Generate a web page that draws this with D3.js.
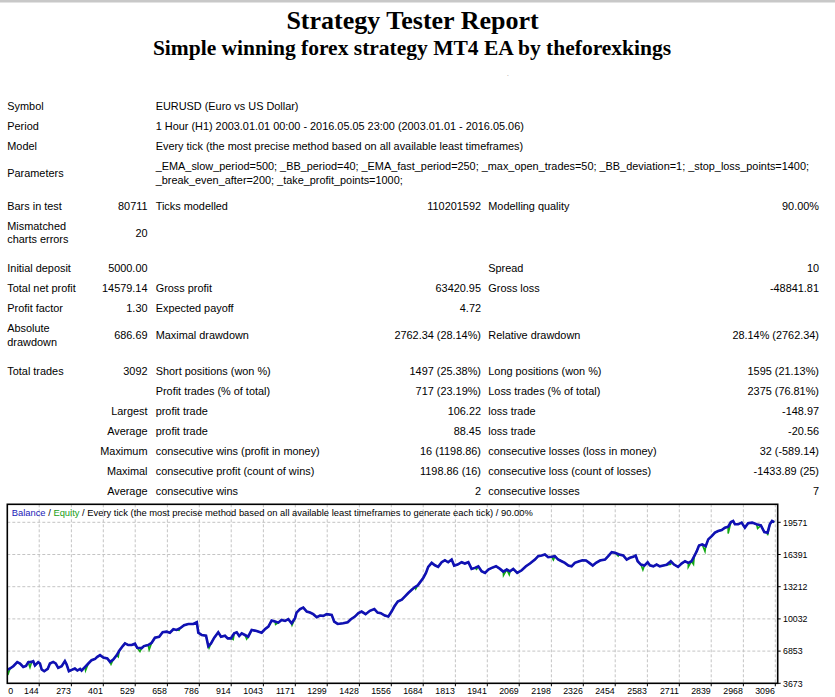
<!DOCTYPE html>
<html lang="en">
<head>
<meta charset="UTF-8">
<title>Strategy Tester Report</title>
<script src="https://d3js.org/d3.v7.min.js"></script>
<style>
  body { margin: 0; background: #fff; }
  svg { display: block; }
  .cell { font-family: "Liberation Sans", Arial, sans-serif; font-size: 10.9px; fill: #000; }
  .small { font-family: "Liberation Sans", Arial, sans-serif; font-size: 8.8px; fill: #000; }
  .caption { font-family: "Liberation Sans", Arial, sans-serif; font-size: 9.4px; fill: #000; }
  .head { font-family: "Liberation Serif", "Times New Roman", serif; font-weight: bold; fill: #000; text-anchor: middle; }
</style>
</head>
<body>
<div id="report"></div>
<script>
// ---- report text ----
const reportTitle = "Strategy Tester Report";
const reportSubtitle = "Simple winning forex strategy MT4 EA by theforexkings";

const infoRows = [
  ["Symbol", ["EURUSD (Euro vs US Dollar)"]],
  ["Period", ["1 Hour (H1) 2003.01.01 00:00 - 2016.05.05 23:00 (2003.01.01 - 2016.05.06)"]],
  ["Model", ["Every tick (the most precise method based on all available least timeframes)"]],
  ["Parameters", ["_EMA_slow_period=500; _BB_period=40; _EMA_fast_period=250; _max_open_trades=50; _BB_deviation=1; _stop_loss_points=1400;",
                  "_break_even_after=200; _take_profit_points=1000;"]]
];

// null = spacer row
const statRows = [
  null,
  ["Bars in test", "80711", "Ticks modelled", "110201592", "Modelling quality", "90.00%"],
  [["Mismatched", "charts errors"], "20", "", "", "", ""],
  null,
  ["Initial deposit", "5000.00", "", "", "Spread", "10"],
  ["Total net profit", "14579.14", "Gross profit", "63420.95", "Gross loss", "-48841.81"],
  ["Profit factor", "1.30", "Expected payoff", "4.72", "", ""],
  [["Absolute", "drawdown"], "686.69", "Maximal drawdown", "2762.34 (28.14%)", "Relative drawdown", "28.14% (2762.34)"],
  null,
  ["Total trades", "3092", "Short positions (won %)", "1497 (25.38%)", "Long positions (won %)", "1595 (21.13%)"],
  ["", "", "Profit trades (% of total)", "717 (23.19%)", "Loss trades (% of total)", "2375 (76.81%)"],
  ["", "Largest", "profit trade", "106.22", "loss trade", "-148.97"],
  ["", "Average", "profit trade", "88.45", "loss trade", "-20.56"],
  ["", "Maximum", "consecutive wins (profit in money)", "16 (1198.86)", "consecutive losses (loss in money)", "32 (-589.14)"],
  ["", "Maximal", "consecutive profit (count of wins)", "1198.86 (16)", "consecutive loss (count of losses)", "-1433.89 (25)"],
  ["", "Average", "consecutive wins", "2", "consecutive losses", "7"]
];

// ---- chart data (trade number, money) ----
const chartCaption = ["Balance", " / ", "Equity", " / Every tick (the most precise method based on all available least timeframes to generate each tick) / 90.00%"];
const xTickLabels = [0, 144, 273, 401, 529, 658, 786, 914, 1043, 1171, 1299, 1428, 1556, 1684, 1813, 1941, 2069, 2198, 2326, 2454, 2583, 2711, 2839, 2968, 3096];
const yTickLabels = [3673, 6853, 10032, 13212, 16391, 19571];

const balance = [
  [16,5000],[27,5134],[40,5362],[56,5760],[67,5630],[80,5293],[91,5392],[100,5760],[114,5789],[120,5859],
  [127,5432],[140,5760],[147,5630],[154,5034],[164,4865],[178,5094],[187,5630],[200,5789],[210,5630],[220,5193],
  [234,5362],[247,5859],[254,5531],[263,4865],[274,4994],[287,5134],[297,4935],[308,5094],[314,4935],[328,5293],
  [341,5630],[354,5958],[368,6087],[377,6286],[388,6455],[401,6227],[417,6127],[428,5789],[441,6028],[455,6455],
  [465,6882],[479,7349],[488,7618],[501,7449],[515,7449],[528,7578],[537,7180],[555,7151],[564,7349],[581,7449],
  [595,7677],[608,8174],[625,8273],[639,8711],[655,8770],[668,8671],[682,9009],[695,8939],[709,9108],[725,9406],
  [742,9535],[762,9535],[776,9704],[782,8671],[796,8442],[813,8373],[822,7349],[833,7618],[846,8174],[862,8711],
  [873,8273],[889,8373],[900,8114],[913,8114],[926,8611],[936,8711],[946,8343],[956,8611],[969,8442],[982,8273],
  [996,8939],[1016,8840],[1036,8671],[1049,9009],[1063,9267],[1076,9863],[1090,9764],[1103,9664],[1116,9933],[1130,9833],
  [1143,10002],[1156,9605],[1170,10101],[1176,10658],[1190,10996],[1203,11155],[1217,10757],[1230,10658],[1243,10499],[1257,10201],
  [1270,10360],[1283,10330],[1297,10499],[1317,10429],[1327,9764],[1341,9535],[1363,9605],[1381,9704],[1394,10002],[1410,10261],
  [1424,10598],[1437,10757],[1453,10499],[1470,10827],[1488,10996],[1501,10658],[1514,10598],[1530,10360],[1544,10261],[1557,10757],
  [1568,11254],[1582,11751],[1598,11920],[1611,12248],[1624,12586],[1638,12913],[1651,13182],[1662,13341],[1674,13738],[1684,14076],
  [1695,14573],[1704,15169],[1718,15566],[1731,15328],[1744,15169],[1758,15626],[1771,15825],[1784,15626],[1798,15894],[1808,15298],
  [1822,15397],[1838,15626],[1851,15497],[1865,15626],[1878,14970],[1891,15070],[1905,15228],[1918,14732],[1932,14573],[1945,14901],
  [1959,15070],[1976,15228],[1992,14970],[2005,14702],[2019,14901],[2032,14732],[2045,14970],[2061,14573],[2079,14831],[2096,15228],
  [2112,15497],[2132,15894],[2145,16222],[2159,16292],[2172,16391],[2185,16123],[2199,16162],[2212,16222],[2225,15894],[2239,15725],
  [2252,15566],[2266,15298],[2279,15228],[2292,15566],[2310,15725],[2323,15825],[2337,15795],[2350,15566],[2364,15298],[2377,15566],
  [2393,15795],[2413,15894],[2426,16222],[2440,16619],[2453,16560],[2470,16391],[2486,16292],[2500,15894],[2513,16063],[2526,16163],
  [2536,16292],[2544,15725],[2557,15397],[2571,15298],[2584,15626],[2593,15328],[2607,15228],[2620,15397],[2633,15228],[2647,15298],
  [2660,15368],[2677,15725],[2690,15397],[2706,15169],[2720,15497],[2734,15725],[2747,15566],[2760,15725],[2771,16222],[2781,16719],
  [2790,17285],[2803,17385],[2817,17216],[2827,17881],[2841,18209],[2854,18547],[2867,18706],[2881,18805],[2894,19044],[2907,19143],
  [2918,19600],[2927,19700],[2934,19372],[2947,19372],[2961,19541],[2974,19044],[2987,19471],[3003,19541],[3021,19372],[3038,19273],
  [3052,18607],[3065,18547],[3074,19372],[3083,19700],[3092,19579]
];

// floating equity lows where it separates from balance
const equityDips = [
  [18,4500],[107,5250],[330,4950],[432,5560],[461,6300],[548,6820],[585,7000],[705,8900],
  [825,7150],[922,8000],[976,8040],[1092,9480],[1158,9420],[1654,13000],[1898,14930],[2006,14330],
  [2029,14400],[2206,15850],[2466,16250],[2565,14880],[2676,15420],[2747,15160],[2768,15420],[2814,16700],
  [2907,18470],[3025,18960],[3065,18280]
];

// ---- layout ----
const W = 835, H = 697;
const colX = [7.3, 147.5, 155.7, 481, 488.3, 819];   // start, end, start, end, start, end
const plot = {left: 7.3, right: 777.7, top: 504.3, bottom: 683.3};

const svg = d3.select("#report").append("svg")
  .attr("width", W).attr("height", H)
  .attr("viewBox", [0, 0, W, H]);

svg.append("rect").attr("x", 0).attr("y", 0).attr("width", W).attr("height", 2.5).attr("fill", "#c8c8c8");

svg.append("text").attr("class", "head").attr("x", 412.5).attr("y", 29)
  .style("font-size", "26px").text(reportTitle);
svg.append("text").attr("class", "head").attr("x", 412).attr("y", 55)
  .style("font-size", "21.5px").text(reportSubtitle);
svg.append("text").attr("x", 507).attr("y", 76).attr("fill", "#999").style("font-size", "7px").text(".");

const LINE = 13.5, ROW = 20, ROW2 = 33.5;

// draws one cell, lines stacked and vertically centred in the row
function cell(txt, x, top, h, anchor) {
  const lines = Array.isArray(txt) ? txt : [txt];
  if (!lines.length || lines[0] === "") return;
  const first = top + h / 2 + 3.8 - (lines.length - 1) * LINE / 2;
  const t = svg.append("text").attr("class", "cell").attr("text-anchor", anchor);
  lines.forEach((s, i) => t.append("tspan").attr("x", x).attr("y", first + i * LINE).text(s));
}

let cursor = 96.5;
infoRows.forEach(([label, value]) => {
  const h = value.length > 1 ? ROW2 : ROW;
  cell(label, colX[0], cursor, h, "start");
  cell(value, colX[2], cursor, h, "start");
  cursor += h;
});

const spacers = [6, 9, 9.5];
let sp = 0;
statRows.forEach(r => {
  if (r === null) { cursor += spacers[sp++]; return; }
  const h = r.some(c => Array.isArray(c)) ? ROW2 : ROW;
  r.forEach((c, i) => cell(c, colX[i], cursor, h, i % 2 ? "end" : "start"));
  cursor += h;
});

// ---- balance / equity graph ----
const x = d3.scaleLinear().domain([16, 3096]).range([7.3, 775.3]);
const y = d3.scaleLinear().domain([3673, 19571]).range([683.3, 522.3]);

const grid = svg.append("g").attr("stroke", "#c4c4c4").attr("stroke-width", 1).attr("stroke-dasharray", "3,2");
grid.selectAll("line.v").data(xTickLabels.slice(1)).join("line")
  .attr("x1", d => x(d)).attr("x2", d => x(d))
  .attr("y1", plot.top).attr("y2", plot.bottom);
grid.selectAll("line.h").data(yTickLabels.slice(1)).join("line")
  .attr("x1", plot.left).attr("x2", plot.right)
  .attr("y1", d => y(d)).attr("y2", d => y(d));

svg.append("defs").append("clipPath").attr("id", "clip")
  .append("rect").attr("x", plot.left).attr("y", plot.top)
  .attr("width", plot.right - plot.left).attr("height", plot.bottom - plot.top);

const equity = balance.concat(equityDips).sort((a, b) => a[0] - b[0]);
const line = d3.line().x(d => x(d[0])).y(d => y(d[1]));

const curves = svg.append("g").attr("clip-path", "url(#clip)").attr("fill", "none");
curves.append("path").datum(equity).attr("d", line)
  .attr("stroke", "#12a812").attr("stroke-width", 1.6);
curves.append("path").datum(balance).attr("d", line)
  .attr("stroke", "#1010b4").attr("stroke-width", 2.6).attr("stroke-linejoin", "miter");

// frame
svg.append("rect").attr("x", plot.left).attr("y", plot.top)
  .attr("width", plot.right - plot.left).attr("height", plot.bottom - plot.top)
  .attr("fill", "none").attr("stroke", "#000").attr("stroke-width", 1.6);

// bottom axis
const xAxis = svg.append("g");
xAxis.selectAll("line").data(xTickLabels.slice(1)).join("line")
  .attr("x1", d => x(d)).attr("x2", d => x(d))
  .attr("y1", plot.bottom).attr("y2", plot.bottom + 3)
  .attr("stroke", "#000");
xAxis.selectAll("text").data(xTickLabels).join("text")
  .attr("class", "small")
  .attr("x", (d, i) => i === 0 ? plot.left + 1 : x(d) - 0.5)
  .attr("y", 694.3)
  .attr("text-anchor", (d, i) => i === 0 ? "start" : "end")
  .text(d => d);

// right axis
const yAxis = svg.append("g");
yAxis.selectAll("line").data(yTickLabels).join("line")
  .attr("x1", plot.right).attr("x2", plot.right + 3)
  .attr("y1", d => y(d)).attr("y2", d => y(d))
  .attr("stroke", "#000");
yAxis.selectAll("text").data(yTickLabels).join("text")
  .attr("class", "small")
  .attr("x", 783)
  .attr("y", d => y(d) + 3.3)
  .text(d => d);

// caption
const cap = svg.append("text").attr("class", "caption").attr("x", 11.7).attr("y", 515.5);
const capColors = ["#2020b8", "#000", "#18a018", "#000"];
chartCaption.forEach((s, i) => cap.append("tspan").attr("fill", capColors[i]).text(s));
</script>
</body>
</html>
